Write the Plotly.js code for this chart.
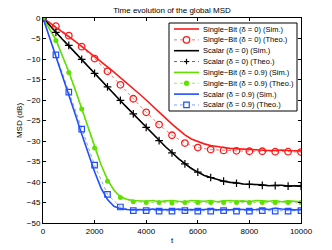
<!DOCTYPE html>
<html>
<head>
<meta charset="utf-8">
<script src="https://cdn.plot.ly/plotly-3.0.1.min.js"></script>
<style>html,body{margin:0;padding:0;background:#fff;}#chart{width:332px;height:250px;}</style>
</head>
<body>
<div id="chart"></div>
<script>
// ---- data ----
var tSim = [0,250,500,750,1000,1250,1500,1750,2000,2250,2500,2750,3000,3250,3500,3750,4000,4250,4500,4750,5000,5250,5500,5750,6000,6250,6500,6750,7000,7250,7500,7750,8000,8250,8500,8750,9000,9250,9500,9750,10000];
var tTheo = [0,500,1000,1500,2000,2500,3000,3500,4000,4500,5000,5500,6000,6500,7000,7500,8000,8500,9000,9500,10000];

var sbitSim0 = [0,-1.1,-2.2,-3.4,-4.5,-5.7,-6.9,-8.1,-9.3,-10.6,-11.9,-13.2,-14.5,-15.8,-17.2,-18.6,-20.0,-21.4,-22.9,-24.4,-25.9,-27.3,-28.5,-29.5,-30.2,-30.7,-31.1,-31.4,-31.6,-31.8,-31.9,-32.0,-32.1,-32.2,-32.2,-32.3,-32.3,-32.2,-32.3,-32.4,-32.4];
var sbitTheo0 = [0,-2.0,-4.3,-7.0,-9.9,-13.0,-16.3,-19.7,-23.0,-26.0,-28.6,-30.5,-31.6,-32.1,-32.3,-32.4,-32.5,-32.5,-32.6,-32.6,-32.7];
var scalSim0 = [0,-1.8,-3.6,-5.2,-6.8,-8.5,-10.2,-11.9,-13.6,-15.2,-16.9,-18.5,-20.2,-21.8,-23.4,-25.0,-26.7,-28.3,-29.9,-31.4,-32.8,-34.3,-35.5,-36.7,-37.6,-38.4,-38.9,-39.4,-39.8,-40.1,-40.2,-40.5,-40.5,-40.6,-40.7,-40.9,-40.8,-40.8,-41.0,-40.9,-41.0];
var scalTheo0 = [0,-3.5,-6.7,-10.1,-13.5,-16.8,-20.1,-23.4,-26.7,-29.9,-32.9,-35.6,-37.6,-38.9,-39.8,-40.3,-40.6,-40.8,-40.9,-41.0,-41.0];
var sbitSim9 = [0,-2.5,-5.3,-9.2,-13.1,-17.5,-22.0,-26.8,-31.5,-35.8,-39.4,-42.0,-43.6,-44.2,-44.5,-44.6,-44.7,-44.5,-44.8,-44.6,-44.5,-44.7,-44.8,-44.5,-44.6,-44.7,-44.5,-44.8,-44.6,-44.5,-44.7,-44.6,-44.8,-44.5,-44.6,-44.7,-44.5,-44.8,-44.6,-44.7,-44.8];
var sbitTheo9 = [0,-5.5,-13.3,-22.2,-31.7,-39.8,-43.8,-44.8,-45.0,-45.0,-45.1,-45.0,-45.0,-45.0,-45.0,-45.0,-45.0,-45.0,-45.0,-45.0,-45.0];
var scalSim9 = [0,-4.6,-9.3,-14.0,-18.7,-23.5,-28.3,-33.0,-37.5,-41.5,-44.3,-45.9,-46.5,-46.7,-46.8,-46.7,-46.8,-46.6,-46.8,-46.7,-46.8,-46.6,-46.8,-46.7,-46.8,-46.7,-46.6,-46.8,-46.7,-46.8,-46.6,-46.7,-46.8,-46.7,-46.5,-46.7,-46.4,-46.6,-46.7,-46.8,-46.7];
var scalTheo9 = [0,-9.0,-18.1,-27.1,-35.9,-43.0,-46.1,-47.0,-47.0,-47.1,-47.1,-47.0,-47.1,-47.1,-47.0,-47.1,-47.1,-47.0,-47.1,-47.1,-47.0];

var names = ["Single\u2212Bit (\u03b4 = 0) (Sim.)","Single\u2212Bit (\u03b4 = 0) (Theo.)","Scalar (\u03b4 = 0) (Sim.)","Scalar (\u03b4 = 0) (Theo.)","Single\u2212Bit (\u03b4 = 0.9) (Sim.)","Single\u2212Bit (\u03b4 = 0.9) (Theo.)","Scalar (\u03b4 = 0.9) (Sim.)","Scalar (\u03b4 = 0.9) (Theo.)"];
var xTicks = [0,2000,4000,6000,8000,10000];
var yTicks = [-50,-45,-40,-35,-30,-25,-20,-15,-10,-5,0];

// ---- styles ----
var RED = "#ff1a1a", BLK = "#000000", GRN = "#5fe000", BLU = "#1f4fff";
var DOT = {"#ff1a1a":"rgba(255,40,40,0.65)", "#000000":"rgba(0,0,0,0.6)", "#5fe000":"rgba(95,224,0,0.65)", "#1f4fff":"rgba(31,79,255,0.55)"};
var styles = [
  {c:RED, sim:true},
  {c:RED, sim:false, sym:"circle-open", size:6.5, lw:1.3, mc:RED},
  {c:BLK, sim:true},
  {c:BLK, sim:false, sym:"cross-thin-open", size:5.5, lw:1.2, mc:BLK},
  {c:GRN, sim:true},
  {c:GRN, sim:false, sym:"circle", size:5, lw:0, mc:GRN},
  {c:BLU, sim:true},
  {c:BLU, sim:false, sym:"square-open", size:5.5, lw:1.2, mc:BLU}
];
var series = [sbitSim0, sbitTheo0, scalSim0, scalTheo0, sbitSim9, sbitTheo9, scalSim9, scalTheo9];

var traces = [];
var order = [0,2,4,6,1,3,5,7];
order.forEach(function(i){
  var s = styles[i];
  if (s.sim) {
    traces.push({x:tSim, y:series[i], type:"scatter", mode:"lines", name:names[i], showlegend:false,
      line:{color:s.c, width:1.6}});
  } else {
    traces.push({x:tTheo, y:series[i], type:"scatter", mode:"lines+markers", name:names[i], showlegend:false,
      line:{color:DOT[s.c], width:1, dash:"dot"},
      marker:{symbol:s.sym, size:s.size, color:s.mc, line:{color:s.mc, width:s.lw}}});
  }
});

// ---- manual legend (pixel -> paper helpers) ----
var PL=43, PR=301, PT=18, PB=223;
function px(x){ return (x-PL)/(PR-PL); }
function py(y){ return (PB-y)/(PB-PT); }
var shapes = [{type:"rect", xref:"paper", yref:"paper", x0:px(169), x1:px(297), y0:py(23), y1:py(111),
  line:{color:"#000", width:1}, fillcolor:"#fff", layer:"above"}];
var annotations = [];
for (var i=0;i<8;i++){
  var yc = 29 + i*10.85;
  var s = styles[i];
  shapes.push({type:"line", xref:"paper", yref:"paper", x0:px(174), x1:px(199), y0:py(yc), y1:py(yc),
    line:{color:s.sim?s.c:DOT[s.c], width:s.sim?1.6:1, dash:s.sim?"solid":"dot"}, layer:"above"});
  if (!s.sim){
    var r = s.size/2;
    if (s.sym==="circle-open"){
      shapes.push({type:"circle", xref:"paper", yref:"paper", x0:px(186.5-r), x1:px(186.5+r), y0:py(yc-r), y1:py(yc+r),
        line:{color:s.c, width:1.3}, fillcolor:"#fff", layer:"above"});
    } else if (s.sym==="circle"){
      shapes.push({type:"circle", xref:"paper", yref:"paper", x0:px(186.5-r), x1:px(186.5+r), y0:py(yc-r), y1:py(yc+r),
        line:{color:s.c, width:0.5}, fillcolor:s.c, layer:"above"});
    } else if (s.sym==="square-open"){
      shapes.push({type:"rect", xref:"paper", yref:"paper", x0:px(186.5-r), x1:px(186.5+r), y0:py(yc-r), y1:py(yc+r),
        line:{color:s.c, width:1.2}, fillcolor:"#fff", layer:"above"});
    } else {
      shapes.push({type:"line", xref:"paper", yref:"paper", x0:px(186.5-r), x1:px(186.5+r), y0:py(yc), y1:py(yc),
        line:{color:s.c, width:1.2}, layer:"above"});
      shapes.push({type:"line", xref:"paper", yref:"paper", x0:px(186.5), x1:px(186.5), y0:py(yc-r), y1:py(yc+r),
        line:{color:s.c, width:1.2}, layer:"above"});
    }
  }
  annotations.push({xref:"paper", yref:"paper", x:px(201), y:py(yc), xanchor:"left", yanchor:"middle",
    text:names[i], showarrow:false, font:{family:"Liberation Sans, Arial, sans-serif", size:7.5, color:"#000"}});
}

var axisCommon = {showgrid:false, zeroline:false, showline:true, linecolor:"#000", linewidth:1,
  ticks:"inside", ticklen:3, tickwidth:1, tickcolor:"#000", mirror:"ticks",
  tickfont:{family:"Liberation Sans, Arial, sans-serif", size:8, color:"#000"}};

var layout = {
  width:332, height:250,
  margin:{l:PL, r:332-PR, t:PT, b:250-PB, pad:0},
  paper_bgcolor:"#fff", plot_bgcolor:"#fff",
  showlegend:false,
  title:{text:"Time evolution of the global MSD", xref:"paper", x:0.5, xanchor:"center",
    yref:"container", y:1-10/250, yanchor:"middle",
    font:{family:"Liberation Sans, Arial, sans-serif", size:8, color:"#000"}},
  xaxis:Object.assign({}, axisCommon, {range:[0,10000], tickvals:xTicks, ticktext:xTicks.map(String),
    title:{text:"t", standoff:2, font:{family:"Liberation Sans, Arial, sans-serif", size:8, color:"#000"}}}),
  yaxis:Object.assign({}, axisCommon, {range:[-50,0], tickvals:yTicks,
    title:{text:"MSD (dB)", standoff:3, font:{family:"Liberation Sans, Arial, sans-serif", size:8, color:"#000"}}}),
  shapes:shapes,
  annotations:annotations
};

Plotly.newPlot("chart", traces, layout, {staticPlot:true, displayModeBar:false});
</script>
</body>
</html>
